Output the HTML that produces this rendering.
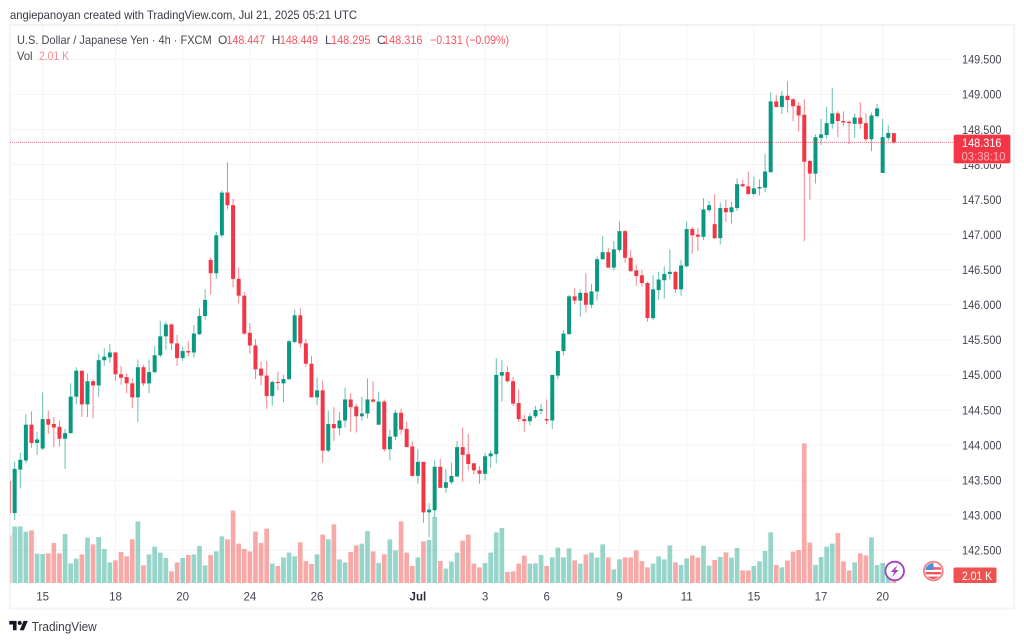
<!DOCTYPE html>
<html lang="en">
<head>
<meta charset="utf-8">
<title>USD/JPY 4h chart</title>
<style>
html,body{margin:0;padding:0;background:#fff;width:1024px;height:642px;overflow:hidden}
svg{display:block;font-family:"Liberation Sans",sans-serif}
text{fill:#434651;font-size:12px}
.r{fill:#f7525f}
</style>
</head>
<body>
<svg id="chart" width="1024" height="642" viewBox="0 0 1024 642">
  <defs><clipPath id="plot-clip"><rect x="10.4" y="25" width="942.6" height="583"/></clipPath>
  <clipPath id="flag-clip"><circle cx="933.3" cy="571" r="8"/></clipPath></defs>
  <rect x="0" y="0" width="1024" height="642" fill="#fff"/>
  <text x="10" y="19" textLength="347" lengthAdjust="spacingAndGlyphs" style="fill:#363a45">angiepanoyan created with TradingView.com, Jul 21, 2025 05:21 UTC</text>
  <rect x="10" y="25" width="1004" height="583.5" fill="#fff" stroke="#f2f3f5" stroke-width="2"/>
  <g id="grid"></g>
  <g id="volume" clip-path="url(#plot-clip)"></g>
  <g id="candles" clip-path="url(#plot-clip)"></g>
  <line id="last-line" x1="10" x2="953" stroke="#f23645" stroke-width="1" stroke-dasharray="1 1" opacity=".65"/>
  <g id="price-axis"></g>
  <g id="time-axis"></g>

  <g>
    <text x="17" y="44" textLength="194.7" lengthAdjust="spacingAndGlyphs">U.S. Dollar / Japanese Yen · 4h · FXCM</text>
    <text x="218" y="44">O</text>
    <text class="r" x="226.5" y="44" textLength="38.5" lengthAdjust="spacingAndGlyphs">148.447</text>
    <text x="271.7" y="44">H</text>
    <text class="r" x="280" y="44" textLength="38" lengthAdjust="spacingAndGlyphs">148.449</text>
    <text x="325" y="44">L</text>
    <text class="r" x="331" y="44" textLength="39.5" lengthAdjust="spacingAndGlyphs">148.295</text>
    <text x="377" y="44">C</text>
    <text class="r" x="383" y="44" textLength="39.5" lengthAdjust="spacingAndGlyphs">148.316</text>
    <text class="r" x="430" y="44" textLength="79" lengthAdjust="spacingAndGlyphs">−0.131 (−0.09%)</text>
    <text x="17" y="60" textLength="15.5" lengthAdjust="spacingAndGlyphs">Vol</text>
    <text x="39" y="60" textLength="30" lengthAdjust="spacingAndGlyphs" style="fill:#f98b8f">2.01 K</text>
  </g>

  <g>
    <rect x="953.5" y="134.5" width="57" height="29" rx="2" fill="#f23645" stroke="#fbb6bb" stroke-width="1"/>
    <text x="962" y="147" textLength="39.5" lengthAdjust="spacingAndGlyphs" style="fill:#fff">148.316</text>
    <text x="961.5" y="160.5" textLength="44" lengthAdjust="spacingAndGlyphs" style="fill:#fbb0b6">03:38:10</text>
  </g>
  <g>
    <rect x="953.5" y="567.5" width="43" height="15.5" rx="1.5" fill="#ef5350"/>
    <text x="962" y="580" textLength="30" lengthAdjust="spacingAndGlyphs" style="fill:#fff">2.01 K</text>
  </g>

  <g>
    <circle cx="894.7" cy="571" r="9.3" fill="#fff" stroke="#a13fc0" stroke-width="1.8"/>
    <polygon points="897.5,565 890.8,572 894.2,572 892,577 898.6,570 895.2,570" fill="#a13fc0"/>
  </g>
  <g>
    <circle cx="933.3" cy="571" r="9.4" fill="#fff" stroke="#f77c80" stroke-width="1.8"/>
    <g clip-path="url(#flag-clip)">
      <rect x="925" y="563" width="17" height="16" fill="#fff"/>
      <rect x="925" y="567.2" width="17" height="2.4" fill="#f7525f"/>
      <rect x="925" y="572" width="17" height="2.4" fill="#f7525f"/>
      <rect x="925" y="576.6" width="17" height="2.4" fill="#f7525f"/>
      <rect x="925" y="563" width="8.6" height="7" fill="#4d90e0"/>
    </g>
  </g>

  <g>
    <g transform="translate(9.3,618.8) scale(.52)" fill="#131722">
      <path d="M14 22H7V11H0V4h14v18z"/><path d="M28 22h-8l7.5-18h8L28 22z"/><circle cx="20" cy="8" r="4"/>
    </g>
    <text x="31.7" y="631" textLength="65" lengthAdjust="spacingAndGlyphs" style="font-size:13px;fill:#3c3f49">TradingView</text>
  </g>
</svg>
<script>
const opens=[143.49,143.03,143.65,143.78,144.29,144.03,143.95,144.37,144.30,144.26,144.09,144.17,144.69,145.06,144.58,144.91,144.85,145.21,145.25,145.32,145.01,144.97,144.88,144.68,145.11,144.88,145.04,145.28,145.55,145.72,145.45,145.24,145.34,145.32,145.58,145.84,146.64,146.45,146.99,147.60,147.42,146.37,146.13,145.60,145.42,145.09,144.99,144.70,144.90,144.88,144.94,145.47,145.85,145.45,145.16,144.68,144.78,143.92,144.30,144.24,144.35,144.65,144.55,144.41,144.45,144.65,144.29,144.62,143.94,144.12,144.46,144.23,143.98,143.56,143.76,143.04,143.07,143.69,143.39,143.47,143.55,143.97,143.87,143.74,143.64,143.59,143.84,143.87,144.99,145.04,144.91,144.60,144.37,144.34,144.41,144.49,144.37,144.35,144.99,145.34,145.58,146.12,146.06,146.17,146.00,146.19,146.65,146.75,146.53,146.78,147.05,146.67,146.49,146.42,146.31,145.81,146.21,146.35,146.44,146.47,146.22,146.55,147.08,147.00,146.97,147.35,147.15,146.95,147.38,147.32,147.38,147.72,147.69,147.58,147.66,147.67,147.89,148.90,148.82,148.98,148.93,148.84,148.71,148.05,147.87,148.38,148.42,148.58,148.73,148.62,148.61,148.58,148.67,148.59,148.36,148.69,147.88,148.38,148.447];
const highs=[143.49,143.76,143.89,144.44,144.48,144.19,144.75,144.49,144.40,144.35,144.23,144.88,145.11,145.06,145.02,144.94,145.30,145.38,145.44,145.33,145.13,145.02,144.95,145.22,145.14,145.22,145.41,145.77,145.76,145.73,145.57,145.40,145.48,145.71,145.95,146.22,146.68,147.04,147.63,148.03,147.51,146.53,146.18,145.74,145.51,145.19,145.20,144.92,145.05,145.00,145.50,145.93,145.95,145.51,145.27,144.96,144.92,144.49,144.54,144.47,144.82,144.74,144.59,144.69,144.95,144.91,144.76,144.65,144.22,144.50,144.52,144.33,144.06,143.94,143.76,143.17,143.78,143.80,143.66,143.75,144.06,144.25,144.16,143.74,143.70,143.89,143.93,145.24,145.21,145.12,144.97,144.79,144.43,144.45,144.56,144.59,144.65,145.00,145.34,145.64,146.14,146.24,146.22,146.45,146.30,146.69,146.98,146.81,146.91,147.19,147.07,146.78,146.57,146.50,146.33,146.42,146.47,146.55,146.79,146.48,146.64,147.19,147.11,147.10,147.52,147.48,147.58,147.46,147.50,147.47,147.80,147.78,147.90,147.83,147.79,148.15,149.03,148.99,149.05,149.19,148.95,148.89,148.93,148.07,148.43,148.65,148.82,149.09,148.76,148.76,148.63,148.73,148.89,148.73,148.74,148.86,148.65,148.56,148.449];
const lows=[143.03,142.93,143.38,143.74,143.96,143.86,143.93,144.16,143.97,143.98,143.66,144.16,144.58,144.40,144.40,144.38,144.69,145.13,145.17,144.92,144.86,144.74,144.53,144.33,144.84,144.74,145.02,145.25,145.36,145.35,145.13,145.20,145.26,145.25,145.57,145.79,146.15,146.37,146.96,147.36,146.25,146.02,145.57,145.30,144.94,144.85,144.52,144.56,144.78,144.61,144.93,145.45,145.39,145.11,144.68,144.57,143.75,143.90,144.06,144.14,144.25,144.19,144.18,144.35,144.38,144.60,144.29,143.91,143.78,144.07,144.15,143.97,143.55,143.45,142.89,142.69,142.96,143.39,143.32,143.44,143.55,143.48,143.64,143.58,143.45,143.50,143.67,143.74,144.62,144.89,144.56,144.33,144.19,144.28,144.38,144.44,144.30,144.23,144.94,145.28,145.58,146.01,145.83,145.89,145.95,146.06,146.64,146.53,146.49,146.75,146.60,146.47,146.27,146.26,145.76,145.78,146.07,146.09,146.36,146.17,146.13,146.53,146.73,146.77,146.92,147.32,146.94,146.86,147.18,147.16,147.34,147.68,147.57,147.56,147.56,147.61,147.89,148.82,148.72,148.74,148.62,148.47,146.91,147.50,147.73,148.28,148.37,148.51,148.39,148.55,148.29,148.38,148.51,148.33,148.19,148.67,147.88,148.34,148.295];
const closes=[143.03,143.66,143.79,144.29,144.03,144.08,144.37,144.29,144.25,144.09,144.17,144.69,145.06,144.58,144.91,144.85,145.21,145.26,145.32,145.01,144.96,144.88,144.68,145.11,144.88,145.04,145.28,145.55,145.72,145.45,145.24,145.34,145.32,145.59,145.84,146.07,146.45,146.99,147.60,147.42,146.37,146.13,145.59,145.42,145.08,144.99,144.70,144.90,144.89,144.94,145.48,145.85,145.45,145.16,144.68,144.78,143.92,144.30,144.24,144.35,144.65,144.54,144.41,144.45,144.65,144.62,144.62,143.94,144.12,144.46,144.22,143.97,143.56,143.76,143.04,143.08,143.69,143.39,143.47,143.56,143.97,143.86,143.73,143.64,143.59,143.84,143.88,145.00,145.04,144.91,144.59,144.37,144.34,144.41,144.50,144.51,144.35,145.00,145.34,145.59,146.12,146.06,146.17,146.00,146.19,146.65,146.75,146.53,146.79,147.05,146.67,146.48,146.41,146.31,145.81,146.22,146.36,146.44,146.47,146.22,146.56,147.08,146.99,146.97,147.36,147.42,146.95,147.38,147.32,147.39,147.72,147.69,147.58,147.66,147.68,147.90,148.90,148.82,148.98,148.92,148.83,148.70,148.04,147.87,148.39,148.43,148.59,148.73,148.62,148.60,148.59,148.67,148.58,148.36,148.70,148.80,148.39,148.45,148.316];
const volumes=[38.1,45.3,45.3,41.1,42.1,23.5,23.2,23.7,32.0,23.7,39.2,15.7,19.5,22.9,36.3,30.9,36.8,27.2,16.5,18.1,24.8,21.3,34.9,49.3,14.1,22.9,29.1,24.3,20.0,9.3,16.5,20.0,22.4,22.9,29.6,14.1,22.4,25.3,37.3,34.9,57.9,31.5,27.2,25.3,41.1,32.0,43.5,15.5,13.6,20.5,24.3,21.3,32.5,17.6,15.2,22.9,38.7,34.9,46.9,18.9,16.5,24.8,30.1,31.5,41.6,25.3,16.0,22.9,34.9,26.1,49.3,24.3,13.6,20.5,33.3,34.4,52.8,17.6,11.5,17.1,24.3,33.9,38.7,15.5,12.5,16.0,24.3,40.5,44.0,8.8,9.3,15.5,21.9,15.5,15.7,22.4,13.6,20.5,28.3,20.5,27.7,18.1,15.5,22.9,24.3,20.3,30.9,20.5,10.9,18.9,20.5,20.5,26.1,17.6,12.5,15.5,21.3,18.9,30.1,16.5,14.4,19.7,22.1,20.3,29.9,13.9,18.4,20.8,24.5,20.3,28.0,10.1,10.1,13.6,17.3,25.6,40.5,14.4,12.5,17.9,25.1,26.4,111.7,32.3,14.4,20.8,29.1,31.5,40.0,17.3,10.1,16.5,23.7,22.1,36.5,14.4,16.0,10.4,2.01];
const priceTicks=[149.5,149,148.5,148,147.5,147,146.5,146,145.5,145,144.5,144,143.5,143,142.5];
const timeLabels=["15","18","20","24","26","Jul","3","6","9","11","15","17","20"];
const timeTickBars=[6,19,31,43,55,73,85,96,109,121,133,145,156];
const lastPrice=148.316;

const NS="http://www.w3.org/2000/svg";
const UP="#089981",DOWN="#f23645";
function xBar(i){return 9.07+5.6*i;}
function yPrice(p){return 94.4+(149-p)*70.13;}
function hVol(v){return v*1.25;}
const VOL_BASE=583;
function mk(tag,attrs,parent){
  const el=document.createElementNS(NS,tag);
  for(const k in attrs){el.setAttribute(k,attrs[k]);}
  parent.appendChild(el);
  return el;
}
const gridG=document.getElementById("grid");
const volG=document.getElementById("volume");
const candleG=document.getElementById("candles");
const priceG=document.getElementById("price-axis");
const timeG=document.getElementById("time-axis");

priceTicks.forEach(function(p){
  const y=yPrice(p);
  const line=mk("line",{x1:11,x2:953,y1:y,y2:y,stroke:"#f3f4f6","stroke-width":1},gridG);
  
  
  const t=mk("text",{x:962,y:y+4.3,textLength:39.5,lengthAdjust:"spacingAndGlyphs"},priceG);
  t.textContent=p.toFixed(3);
  
  
});
timeLabels.forEach(function(lab,k){
  const x=xBar(timeTickBars[k]);
  const line=mk("line",{x1:x,x2:x,y1:26,y2:584,stroke:"#f3f4f6","stroke-width":1},gridG);
  
  
  const t=mk("text",{x:x,y:600.3,"text-anchor":"middle"},timeG);
  t.style.fontSize="11.5px";
  if(lab==="Jul"){t.style.fontWeight="bold";t.style.fill="#2a2e39";}
  t.textContent=lab;
  
  
});
volumes.forEach(function(v,i){
  const h=hVol(v);
  const up=closes[i]>=opens[i];
  const r=mk("rect",{x:xBar(i)-2.35,y:VOL_BASE-h,width:4.7,height:h,fill:up?UP:"#ef5350","fill-opacity":up?.42:.5},volG);
  
  
});
opens.forEach(function(o,i){
  const c=closes[i];
  const up=c>=o;
  const col=up?UP:DOWN;
  const x=xBar(i);
  const w=mk("line",{x1:x,x2:x,y1:yPrice(highs[i]),y2:yPrice(lows[i]),stroke:col,"stroke-width":1,opacity:.62},candleG);
  
  
  const top=yPrice(Math.max(o,c)),bot=yPrice(Math.min(o,c));
  const b=mk("rect",{x:x-2,y:top,width:4,height:Math.max(bot-top,1),fill:col},candleG);
  
  
});
const ll=document.getElementById("last-line");
ll.setAttribute("y1",yPrice(lastPrice));
ll.setAttribute("y2",yPrice(lastPrice));
</script>
</body>
</html>
